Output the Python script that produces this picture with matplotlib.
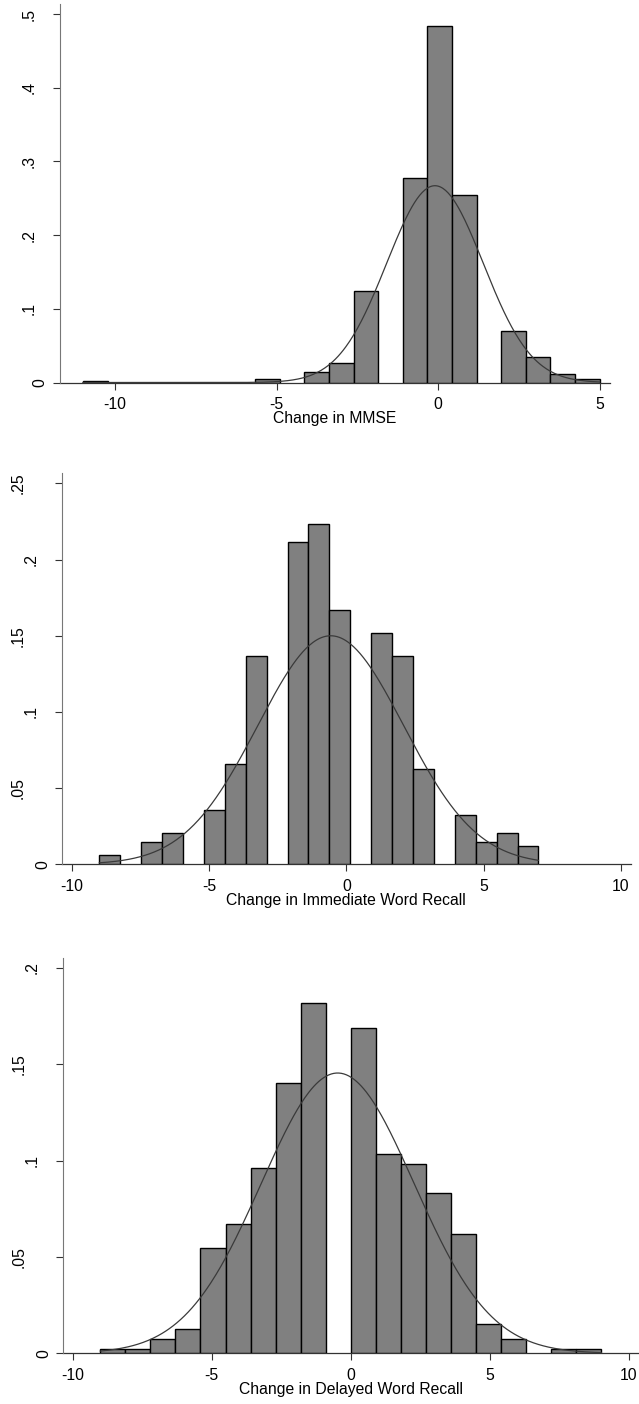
import numpy as np
import matplotlib
matplotlib.use("Agg")
import matplotlib.pyplot as plt

plt.rcParams['font.family'] = ['Liberation Sans', 'DejaVu Sans']

# ---------------- data ----------------
# Panel 1: Change in MMSE (density histogram, 21 bins from -11 to 5)
mmse_start = -11.0
mmse_end = 5.0
mmse_density = [0.0025, 0, 0, 0, 0, 0, 0, 0.0050, 0, 0.0140, 0.0263,
                0.124, 0, 0.277, 0.484, 0.254, 0, 0.0697, 0.0344, 0.0118, 0.0045]
mmse_mean, mmse_sd = -0.10, 1.494

# Panel 2: Change in Immediate Word Recall (21 bins from -9 to 7)
iwr_start = -9.0
iwr_end = 7.0
iwr_density = [0.0059, 0, 0.0147, 0.0206, 0, 0.0359, 0.0656, 0.137, 0, 0.2113,
               0.2231, 0.1667, 0, 0.1518, 0.137, 0.0626, 0, 0.0324, 0.0147, 0.0206, 0.0118]
iwr_mean, iwr_sd = -0.57, 2.66

# Panel 3: Change in Delayed Word Recall (20 bins from -9 to 9)
dwr_start = -9.0
dwr_end = 9.0
dwr_density = [0.0022, 0.0020, 0.0074, 0.0128, 0.0545, 0.0672, 0.0959, 0.140, 0.1817, 0,
               0.1685, 0.1035, 0.0984, 0.083, 0.062, 0.0152, 0.0074, 0, 0.0022, 0.0022]
dwr_mean, dwr_sd = -0.47, 2.744

xlabels = ["Change in MMSE", "Change in Immediate Word Recall", "Change in Delayed Word Recall"]
xticks_list = [[-10, -5, 0, 5], [-10, -5, 0, 5, 10], [-10, -5, 0, 5, 10]]
yticks_list = [[0, .1, .2, .3, .4, .5], [0, .05, .1, .15, .2, .25], [0, .05, .1, .15, .2]]
yticklabels_list = [["0", ".1", ".2", ".3", ".4", ".5"],
                    ["0", ".05", ".1", ".15", ".2", ".25"],
                    ["0", ".05", ".1", ".15", ".2"]]

# ---------------- layout ----------------
W, H = 639, 1404
DPI = 100
fig = plt.figure(figsize=(W / DPI, H / DPI), dpi=DPI)

axes_rects = [[0.0934, 0.72756, 0.8612, 0.26959],
              [0.0970, 0.38440, 0.8900, 0.27849],
              [0.0991, 0.03611, 0.9009, 0.28177]]
xlims = [(-11.72, 5.32), (-10.36, 10.36), (-10.33, 10.36)]
ylims = [(0, 0.5136), (0, 0.2566), (0, 0.2052)]

panels = [(mmse_start, mmse_end, mmse_density, mmse_mean, mmse_sd),
          (iwr_start, iwr_end, iwr_density, iwr_mean, iwr_sd),
          (dwr_start, dwr_end, dwr_density, dwr_mean, dwr_sd)]

FS = 11.3
TICKLEN = 4.7  # points
BAR_COLOR = '#808080'

for i, (start, end, dens, mu, sd) in enumerate(panels):
    ax = fig.add_axes(axes_rects[i])
    dens = np.asarray(dens, dtype=float)
    nb = len(dens)
    width = (end - start) / nb
    edges = start + width * np.arange(nb)
    mask = dens > 0
    ax.bar(edges[mask], dens[mask], width=width, align='edge',
           color=BAR_COLOR, edgecolor='black', linewidth=1.0, zorder=2)
    xs = np.linspace(start, end, 400)
    ys = np.exp(-0.5 * ((xs - mu) / sd) ** 2) / (sd * np.sqrt(2 * np.pi))
    ax.plot(xs, ys, color='#3a3a3a', linewidth=0.9, zorder=3)

    ax.set_xlim(*xlims[i])
    ax.set_ylim(*ylims[i])
    for s in ['top', 'right']:
        ax.spines[s].set_visible(False)
    ax.spines['left'].set_color('#777777')
    ax.spines['left'].set_linewidth(0.8)
    ax.spines['bottom'].set_color('#333333')
    ax.spines['bottom'].set_linewidth(0.9)
    ax.spines['bottom'].set_zorder(1)

    ax.set_xticks(xticks_list[i])
    ax.set_xticklabels([str(t) for t in xticks_list[i]])
    ax.set_yticks(yticks_list[i])
    ax.set_yticklabels(yticklabels_list[i], rotation=90, va='center', ha='center')
    ax.tick_params(axis='both', direction='out', length=TICKLEN, width=0.8,
                   color='#333333', labelsize=FS, labelcolor='black')
    ax.tick_params(axis='x', pad=6.0)
    ax.set_xlabel(xlabels[i], fontsize=FS, labelpad=-1.0)

    for tick, lab in zip(ax.yaxis.get_major_ticks(), yticklabels_list[i]):
        n = len(lab)
        if n == 1:
            dist_px = 19.5
        elif n == 2:
            dist_px = 31.0
        else:
            dist_px = 44.0
        tick.set_pad(dist_px * 72.0 / DPI - TICKLEN)

fig.savefig('out.png', dpi=DPI)
